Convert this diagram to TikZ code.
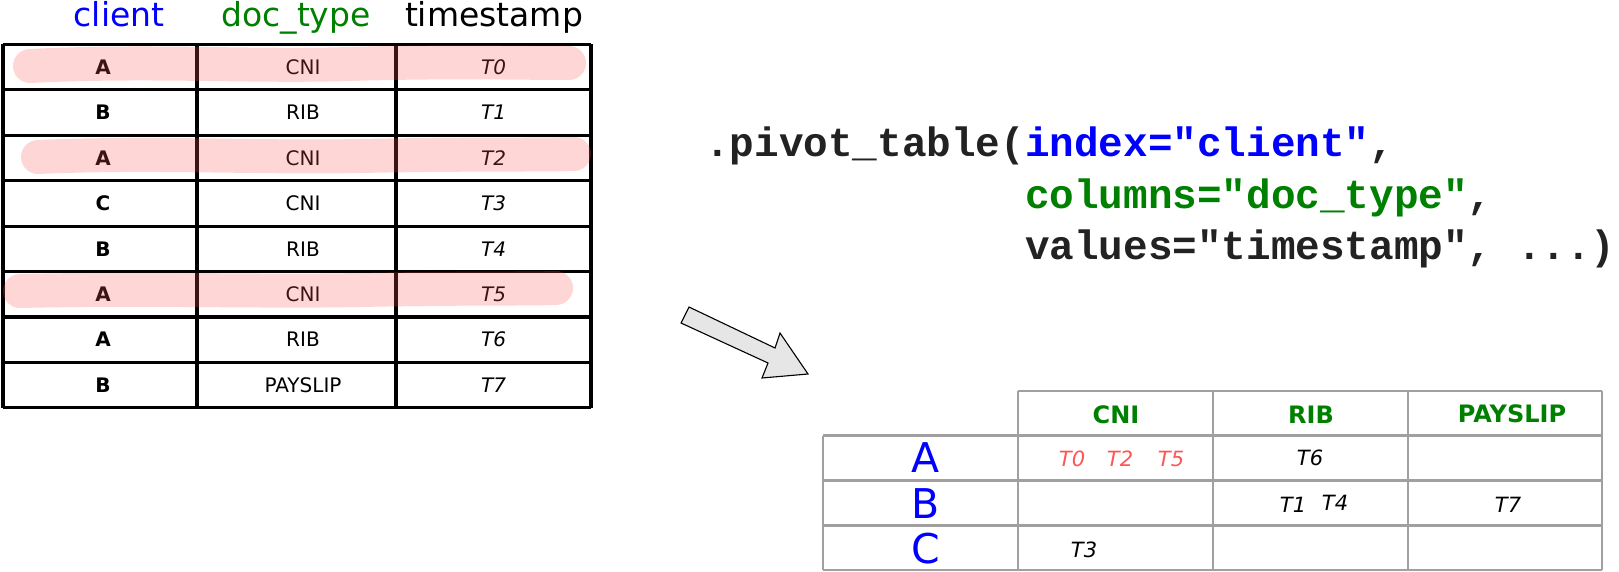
\documentclass[tikz,border=0pt]{standalone}
\usepackage{fontspec}
\setmainfont{DejaVu Sans}
\newfontfamily\codefont{Liberation Mono}
\definecolor{hlred}{RGB}{255,85,85}
\definecolor{codeblk}{RGB}{34,34,34}
\definecolor{gridgray}{RGB}{160,160,160}
\definecolor{dgreen}{RGB}{0,128,0}
\definecolor{arrowfill}{RGB}{230,230,230}
\tikzset{
  cellbox/.style={font=\fontsize{20}{24}\selectfont, anchor=base, inner sep=0pt},
  hdrtxt/.style={font=\fontsize{33}{38}\selectfont, anchor=base, inner sep=0pt},
  codetxt/.style={font=\codefont\bfseries\fontsize{41}{48}\selectfont, anchor=base west, inner sep=0pt, text=codeblk},
  pivhdr/.style={font=\bfseries\fontsize{24}{28}\selectfont, anchor=base, inner sep=0pt, text=dgreen},
  pivrow/.style={font=\fontsize{41}{48}\selectfont, anchor=base, inner sep=0pt, text=blue},
  pivval/.style={font=\itshape\fontsize{21}{25}\selectfont, anchor=base, inner sep=0pt},
  tblline/.style={line width=3.2pt, draw=black},
  gridline/.style={line width=2.3pt, draw=gridgray},
  highlight/.style={line width=34pt, line cap=round, draw=hlred, draw opacity=0.24},
}
\begin{document}
\begin{tikzpicture}[x=1pt,y=-1pt]
\useasboundingbox (0,0) rectangle (1619,572);
% ---------- left table headers
\node[hdrtxt, text=blue] (hclient) at (119,27) {client};
\node[hdrtxt, text=dgreen] (hdoc) at (296,27) {doc\_type};
\node[hdrtxt, text=black] (hts) at (494,27) {timestamp};
% ---------- left table cells
\foreach \c/\d/\t [count=\i from 0] in {A/CNI/T0,B/RIB/T1,A/CNI/T2,C/CNI/T3,B/RIB/T4,A/CNI/T5,A/RIB/T6,B/PAYSLIP/T7}{
  \pgfmathsetmacro{\yb}{44.5+45.4*\i+22.7+7.3}
  \node[cellbox, font=\bfseries\fontsize{20}{24}\selectfont] (lc\i) at (103,\yb) {\c};
  \node[cellbox] (ld\i) at (303,\yb) {\d};
  \node[cellbox, font=\itshape\fontsize{20}{24}\selectfont] (lt\i) at (493.5,\yb) {\t};
}
% ---------- left table grid
\foreach \i in {0,...,8}{
  \draw[tblline] (3,{44.5+45.4*\i}) -- (591,{44.5+45.4*\i});
}
\foreach \x in {3,197,396,591}{
  \draw[tblline] (\x,44.5) -- (\x,{44.5+45.4*8});
}
% ---------- highlights
\draw[highlight] (30,66) .. controls (150,60) and (250,67) .. (350,64) .. controls (450,61) and (520,63) .. (569,63);
\draw[highlight] (38,157) .. controls (150,152) and (260,158) .. (360,156) .. controls (460,154) and (530,155) .. (574,154);
\draw[highlight] (20,291) .. controls (150,288) and (260,292) .. (360,290) .. controls (460,288) and (520,289) .. (556,288);
% ---------- code
\node[codetxt] (code1) at (705,157) {.pivot\_table(\textcolor{blue}{index="client"},};
\node[codetxt] (code2) at (705,208.5) {\hphantom{.pivot\_table(}\textcolor{dgreen}{columns="doc\_type"},};
\node[codetxt] (code3) at (705,259.5) {\hphantom{.pivot\_table(}values="timestamp", ...)};
% ---------- block arrow
\draw[fill=arrowfill, draw=black, line width=1.1pt, line join=miter]
  (689,307) -- (775,348) -- (780,333) -- (808,374) -- (762,378) -- (768,363) -- (681,323) -- cycle;
% ---------- pivot table grid
\draw[gridline] (1018,391) -- (1602,391);
\foreach \y in {435.5,480.5,525.5,570}{
  \draw[gridline] (823,\y) -- (1602,\y);
}
\draw[gridline] (823,435.5) -- (823,570);
\foreach \x in {1018,1213,1408,1602}{
  \draw[gridline] (\x,391) -- (\x,570);
}
% ---------- pivot headers
\node[pivhdr] (pcni) at (1116,423.5) {CNI};
\node[pivhdr] (prib) at (1311,423.5) {RIB};
\node[pivhdr] (ppay) at (1512,422.5) {PAYSLIP};
% ---------- pivot row labels
\node[pivrow] (pa) at (926,472.5) {A};
\node[pivrow] (pb) at (926,518) {B};
\node[pivrow] (pc) at (926,563.5) {C};
% ---------- pivot values
\node[pivval, text=hlred] (v0) at (1072,466) {T0};
\node[pivval, text=hlred] (v2) at (1120,466) {T2};
\node[pivval, text=hlred] (v5) at (1171,466) {T5};
\node[pivval] (v6) at (1310,465) {T6};
\node[pivval] (v1) at (1293,512) {T1};
\node[pivval] (v4) at (1335,510) {T4};
\node[pivval] (v7) at (1508,512) {T7};
\node[pivval] (v3) at (1084,557) {T3};
\end{tikzpicture}
\end{document}
